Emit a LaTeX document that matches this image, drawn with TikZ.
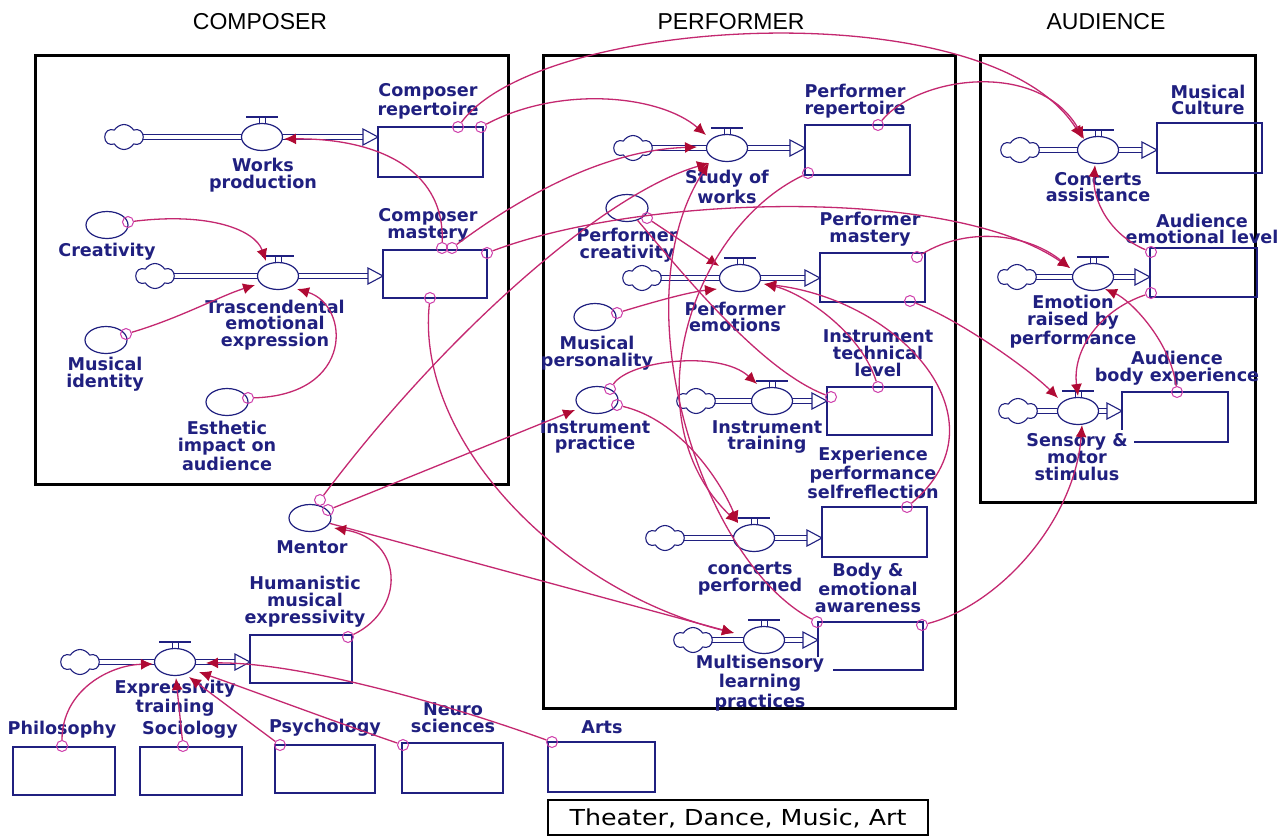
\documentclass[tikz,border=0pt]{standalone}
\usepackage{fontspec}
\setmainfont{DejaVu Sans}
\newfontfamily\lblfam{DejaVu Sans}
\newfontfamily\hdfam{Liberation Sans}
\newfontfamily\boxfam{DejaVu Sans}[FakeStretch=1.15]
\usetikzlibrary{shapes.geometric,shapes.symbols,arrows.meta}
\definecolor{ink}{RGB}{32,32,128}
\definecolor{linkc}{RGB}{196,40,112}
\definecolor{tipc}{RGB}{176,10,52}
\definecolor{srcc}{RGB}{206,60,170}
% flow unit: #1 name, #2 cloud x, #3 valve x, #4 y, #5 stock left x
\newcommand{\flowunit}[5]{%
  \draw[pipe] ({#2+17},#4) -- ({#3-20},#4);
  \draw[pipe] ({#3+20},#4) -- ({#5-14},#4);
  \draw[ink, line width=0.55pt, fill=white] ({#5-15},{#4-8}) -- (#5,#4) -- ({#5-15},{#4+8}) -- cycle;
  \node[cloudsym] (#1-cl) at (#2,#4) {};
  \draw[ink, line width=0.8pt] ({#3-16},{#4-20}) -- ({#3+16},{#4-20});
  \draw[ink, line width=0.5pt] ({#3-3},{#4-20}) -- ({#3-3},{#4-13}) ({#3+3},{#4-20}) -- ({#3+3},{#4-13});
  \node[flowc] (#1) at (#3,#4) {};
}
\newcommand{\stockbox}[5]{%
  \path (#2,#3) coordinate (#1-nw) (#4,#5) coordinate (#1-se);
  \draw[stockline] (#1-nw) rectangle (#1-se);
}
\begin{document}
\begin{tikzpicture}[x=0.5pt,y=-0.5pt,
  lbl/.style={font=\lblfam\bfseries\fontsize{8.8}{8.4}\selectfont, text=ink, align=center, inner sep=0pt},
  hd/.style={font=\hdfam\fontsize{11.5}{12}\selectfont, text=black, inner sep=0pt},
  frame/.style={draw=black, line width=1.5pt},
  stockline/.style={draw=ink, line width=0.8pt},
  pipe/.style={draw=ink, line width=0.55pt, double=white, double distance=2.2pt},
  flowc/.style={ellipse, draw=ink, line width=0.6pt, fill=white, minimum width=20.5pt, minimum height=13.5pt, inner sep=0pt},
  cloudsym/.style={cloud, cloud puffs=6, cloud puff arc=120, aspect=1.5, draw=ink, line width=0.55pt, fill=white, minimum width=19pt, minimum height=12.5pt, inner sep=0pt},
  auxc/.style={ellipse, draw=ink, line width=0.6pt, fill=white, minimum width=21pt, minimum height=13.5pt, inner sep=0pt},
  src/.style={circle, draw=srcc, line width=0.5pt, minimum size=5.5pt, inner sep=0pt},
  link/.style={draw=linkc, line width=0.65pt, -{Latex[length=6pt,width=5.5pt,color=tipc]}},
  plainlink/.style={draw=linkc, line width=0.65pt}]
\useasboundingbox (0,0) rectangle (1284,836);
\fill[white] (0,0) rectangle (1284,836);

% headers
\node[hd] (h-comp) at (260,22) {COMPOSER};
\node[hd] (h-perf) at (731,22) {PERFORMER};
\node[hd] (h-aud) at (1106,22) {AUDIENCE};

% frames
\draw[frame] (35,55) rectangle (508,484);
\draw[frame] (543,55) rectangle (955,708);
\draw[frame] (980,55) rectangle (1255,502);

% stocks
\stockbox{cr}{378}{127}{483}{177}
\stockbox{cm}{383}{250}{487}{298}
\stockbox{pr}{805}{125}{910}{175}
\stockbox{pm}{820}{253}{925}{302}
\stockbox{itl}{827}{387}{932}{435}
\stockbox{esr}{822}{507}{927}{557}
\path (818,622) coordinate (bea-nw) (923,670) coordinate (bea-se);
\draw[stockline] (818,657) -- (bea-nw) -- (923,622) -- (bea-se) -- (833,670);
\stockbox{mc}{1157}{123}{1262}{173}
\stockbox{ael}{1150}{248}{1257}{297}
\path (1122,392) coordinate (abe-nw) (1228,442) coordinate (abe-se);
\draw[stockline] (1122,430) -- (abe-nw) -- (1228,392) -- (abe-se) -- (1134,442);
\stockbox{hme}{250}{635}{352}{683}
\stockbox{phil}{13}{747}{115}{795}
\stockbox{soc}{140}{747}{242}{795}
\stockbox{psy}{275}{745}{375}{793}
\stockbox{neu}{402}{743}{503}{793}
\stockbox{arts}{548}{742}{655}{792}

% flows
\flowunit{wp}{124}{262}{137}{378}
\flowunit{te}{155}{278}{276}{383}
\flowunit{sw}{633}{727}{148}{805}
\flowunit{pe}{642}{740}{278}{820}
\flowunit{itr}{696}{772}{401}{827}
\flowunit{cp}{665}{754}{538}{822}
\flowunit{mlp}{693}{764}{640}{818}
\flowunit{ca}{1020}{1098}{150}{1157}
\flowunit{erp}{1017}{1093}{277}{1150}
\flowunit{sms}{1018}{1078}{411}{1122}
\flowunit{et}{80}{175}{662}{250}

% auxiliaries
\node[auxc] (crea) at (107,225) {};
\node[auxc] (mid) at (106,340) {};
\node[auxc] (est) at (227,402) {};
\node[auxc] (pc) at (627,208) {};
\node[auxc] (mp) at (595,317) {};
\node[auxc] (ip) at (597,400) {};
\node[auxc] (ment) at (310,518) {};

% labels
\node[lbl] (l-cr) at (428,101) {Composer\\repertoire};
\node[lbl] (l-cm) at (428,225) {Composer\\mastery};
\node[lbl] (l-wp) at (263,175) {Works\\production};
\node[lbl] (l-te) at (275,325) {Trascendental\\emotional\\expression};
\node[lbl] (l-crea) at (107,252) {Creativity};
\node[lbl] (l-mid) at (105,374) {Musical\\identity};
\node[lbl] (l-est) at (227,446) {Esthetic\\impact on\\audience};
\node[lbl] (l-pr) at (855,101) {Performer\\repertoire};
\node[lbl] (l-sw) at (727,187) {Study of\\works};
\node[lbl] (l-pc) at (627,245) {Performer\\creativity};
\node[lbl] (l-pm) at (870,229) {Performer\\mastery};
\node[lbl] (l-pe) at (735,317) {Performer\\emotions};
\node[lbl] (l-mp) at (597,353) {Musical\\personality};
\node[lbl] (l-itl) at (878,353) {Instrument\\technical\\level};
\node[lbl] (l-ip) at (595,437) {Instrument\\practice};
\node[lbl] (l-itr) at (767,437) {Instrument\\training};
\node[lbl] (l-esr) at (873,473) {Experience\\performance\\selfreflection};
\node[lbl] (l-cp) at (750,579) {concerts\\performed};
\node[lbl] (l-bea) at (868,588) {Body \&\\emotional\\awareness};
\node[lbl] (l-mlp) at (760,683) {Multisensory\\learning\\practices};
\node[lbl] (l-mc) at (1208,100) {Musical\\Culture};
\node[lbl] (l-ca) at (1098,187) {Concerts\\assistance};
\node[lbl] (l-ael) at (1202,229) {Audience\\emotional level};
\node[lbl] (l-erp) at (1073,322) {Emotion\\raised by\\performance};
\node[lbl] (l-abe) at (1177,368) {Audience\\body experience};
\node[lbl] (l-sms) at (1077,457) {Sensory \&\\motor\\stimulus};
\node[lbl] (l-ment) at (312,547) {Mentor};
\node[lbl] (l-hme) at (305,602) {Humanistic\\musical\\expressivity};
\node[lbl] (l-et) at (175,698) {Expressivity\\training};
\node[lbl] (l-phil) at (62,730) {Philosophy};
\node[lbl] (l-soc) at (190,730) {Sociology};
\node[lbl] (l-psy) at (325,728) {Psychology};
\node[lbl] (l-neu) at (453,718) {Neuro\\sciences};
\node[lbl] (l-arts) at (602,727) {Arts};

% bottom box
\draw[black, line width=0.8pt] (548,800) rectangle (928,835);
\node[font=\boxfam\fontsize{11}{12}\selectfont, inner sep=0pt] (l-tdma) at (738,818) {Theater, Dance, Music, Art};

% source points
\node[src] (s-crea) at (128,222) {};
\node[src] (s-mid) at (126,334) {};
\node[src] (s-est) at (248,398) {};
\node[src] (s-cm1) at (442,248) {};
\node[src] (s-cm2) at (452,248) {};
\node[src] (s-cm3) at (487,253) {};
\node[src] (s-cm4) at (430,298) {};
\node[src] (s-cr1) at (458,127) {};
\node[src] (s-cr2) at (481,127) {};
\node[src] (s-m1) at (320,500) {};
\node[src] (s-m2) at (328,510) {};
\node[src] (s-hme) at (348,637) {};
\node[src] (s-phil) at (62,746) {};
\node[src] (s-soc) at (183,746) {};
\node[src] (s-psy) at (280,745) {};
\node[src] (s-neu) at (403,745) {};
\node[src] (s-arts) at (552,742) {};
\node[src] (s-pr1) at (878,125) {};
\node[src] (s-pr2) at (808,173) {};
\node[src] (s-pc) at (647,218) {};
\node[src] (s-mp) at (617,313) {};
\node[src] (s-ip1) at (610,389) {};
\node[src] (s-ip2) at (617,405) {};
\node[src] (s-bea1) at (817,622) {};
\node[src] (s-bea2) at (922,625) {};
\node[src] (s-esr) at (907,507) {};
\node[src] (s-itl1) at (878,387) {};
\node[src] (s-itl2) at (831,397) {};
\node[src] (s-pm1) at (917,257) {};
\node[src] (s-pm2) at (910,301) {};
\node[src] (s-ael1) at (1151,252) {};
\node[src] (s-ael2) at (1151,293) {};
\node[src] (s-abe) at (1177,392) {};

% target points
\coordinate (t-te1) at (266,261);
\coordinate (t-te2) at (255,285);
\coordinate (t-te3) at (297,289);
\coordinate (t-wp) at (284,139);
\coordinate (t-ca1) at (1082,138);
\coordinate (t-ca2) at (1084,139);
\coordinate (t-ca3) at (1095,165);
\coordinate (t-sw1) at (706,135);
\coordinate (t-sw2) at (697,147);
\coordinate (t-sw3) at (709,163);
\coordinate (t-erp1) at (1070,268);
\coordinate (t-erp2) at (1105,289);
\coordinate (t-mlp) at (734,633);
\coordinate (t-ip) at (575,410);
\coordinate (t-ment) at (334,528);
\coordinate (t-et1) at (153,664);
\coordinate (t-et2) at (176,678);
\coordinate (t-et3) at (189,677);
\coordinate (t-et4) at (199,672);
\coordinate (t-et5) at (206,663);
\coordinate (t-pe1) at (719,266);
\coordinate (t-pe2) at (717,289);
\coordinate (t-pe3) at (764,284);
\coordinate (t-itr) at (757,384);
\coordinate (t-cp) at (738,523);
\coordinate (t-sms1) at (1058,398);
\coordinate (t-sms2) at (1078,396);
\coordinate (t-sms3) at (1082,425);

% composer links
\draw[link] (s-crea) .. controls (210,212) and (255,230) .. (t-te1);
\draw[link] (s-mid) .. controls (180,318) and (220,296) .. (t-te2);
\draw[link] (s-est) .. controls (355,395) and (350,305) .. (t-te3);
\draw[link] (s-cm1) .. controls (445,165) and (370,138) .. (t-wp);

% cross links
\draw[link] (s-cr1) .. controls (540,15) and (990,-10) .. (t-ca1);
\draw[link] (s-cr2) .. controls (560,85) and (660,95) .. (t-sw1);
\draw[link] (s-cm2) .. controls (530,190) and (610,150) .. (t-sw2);
\draw[link] (s-cm3) .. controls (640,195) and (950,185) .. (t-erp1);
\draw[link] (s-cm4) .. controls (415,440) and (560,590) .. (t-mlp);
\draw[link] (s-m1) .. controls (440,340) and (600,195) .. (t-sw3);
\draw[link] (s-m2) -- (t-ip);
\draw[link] (ment) -- (t-mlp);
\draw[link] (s-hme) .. controls (405,610) and (405,540) .. (t-ment);

% bottom links
\draw[link] (s-phil) .. controls (62,690) and (110,665) .. (t-et1);
\draw[link] (s-soc) -- (t-et2);
\draw[link] (s-psy) -- (t-et3);
\draw[link] (s-neu) .. controls (330,720) and (250,690) .. (t-et4);
\draw[link] (s-arts) .. controls (450,705) and (300,662) .. (t-et5);

% performer links
\draw[link] (s-pr1) .. controls (920,75) and (1040,60) .. (t-ca2);
\draw[link] (s-pc) -- (t-pe1);
\draw[link] (s-mp) .. controls (660,300) and (690,292) .. (t-pe2);
\draw[link] (s-ip1) .. controls (630,360) and (720,350) .. (t-itr);
\draw[link] (s-ip2) .. controls (680,420) and (720,480) .. (t-cp);
\draw[link] (s-pr2) .. controls (690,230) and (630,420) .. (t-cp);
\draw[link] (s-bea1) .. controls (700,560) and (620,300) .. (t-sw3);
\draw[link] (s-esr) .. controls (1010,420) and (900,300) .. (t-pe3);
\draw[link] (s-itl1) .. controls (860,330) and (800,292) .. (t-pe3);
\draw[plainlink] (s-itl2) .. controls (760,370) and (680,270) .. (pc);
\draw[link] (s-pm2) .. controls (960,320) and (1030,370) .. (t-sms1);
\draw[link] (s-pm1) .. controls (970,225) and (1030,235) .. (t-erp1);

% audience links
\draw[link] (s-ael1) .. controls (1110,235) and (1092,200) .. (t-ca3);
\draw[link] (s-ael2) .. controls (1100,310) and (1072,350) .. (t-sms2);
\draw[link] (s-abe) .. controls (1170,340) and (1130,300) .. (t-erp2);
\draw[link] (s-bea2) .. controls (1000,605) and (1075,520) .. (t-sms3);
\end{tikzpicture}
\end{document}
